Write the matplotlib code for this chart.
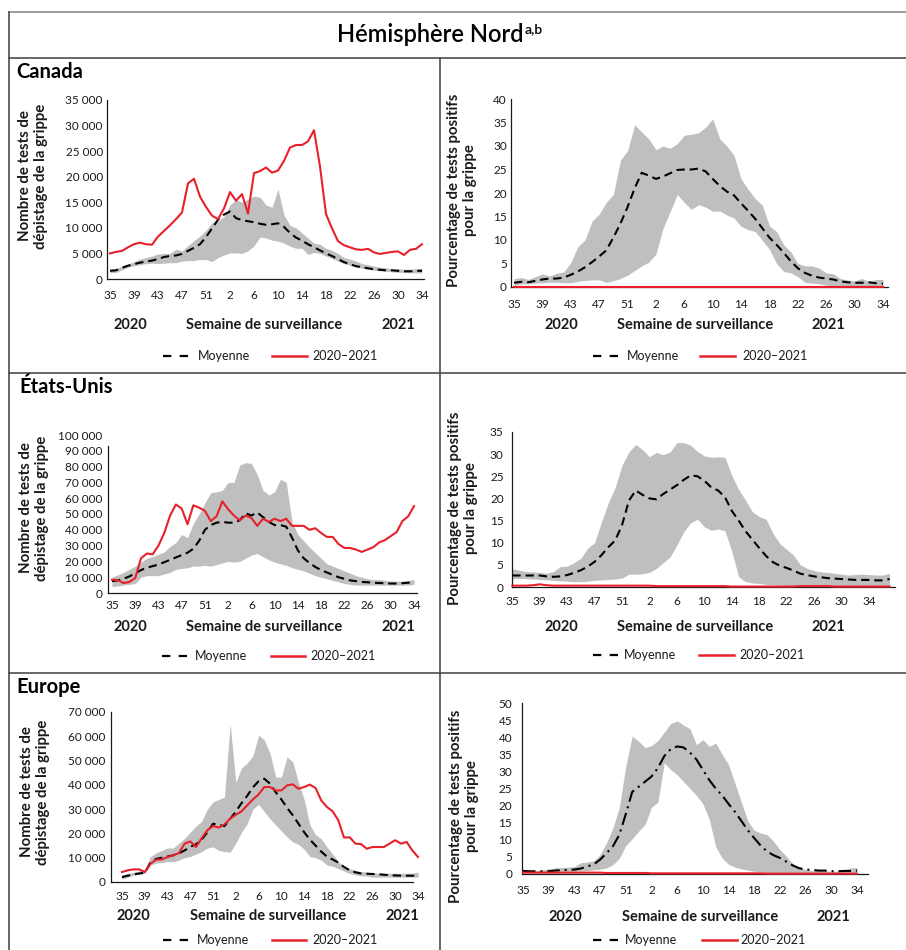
import matplotlib
matplotlib.use("Agg")
import matplotlib.pyplot as plt
from matplotlib.lines import Line2D

plt.rcParams['font.family'] = ['Lato', 'DejaVu Sans']
plt.rcParams['lines.scale_dashes'] = False

# ---------------- data ----------------
weeks = [35, 36, 37, 38, 39, 40, 41, 42, 43, 44, 45, 46, 47, 48, 49, 50, 51, 52, 53,
         1, 2, 3, 4, 5, 6, 7, 8, 9, 10, 11, 12, 13, 14, 15, 16, 17, 18, 19, 20,
         21, 22, 23, 24, 25, 26, 27, 28, 29, 30, 31, 32, 33, 34]
weeks_us_pct = weeks + [35, 36, 37]

# Canada - number of tests (thousands)
ca_tests_cur = [5.0, 5.3, 5.5, 6.2, 6.8, 7.1, 6.8, 6.7, 8.3, 9.4, 10.5, 11.7, 13.0, 18.7, 19.6, 16.1, 14.1, 12.4, 11.7, 13.8,
                17.0, 15.3, 16.6, 12.8, 20.7, 21.1, 21.8, 20.8, 21.2, 23.1, 25.7, 26.2, 26.2, 26.9, 29.1, 22.0, 12.7, 9.9, 7.4, 6.6,
                6.2, 5.8, 5.7, 5.9, 5.2, 4.9, 5.1, 5.3, 5.4, 4.7, 5.7, 5.9, 6.8]
ca_tests_mean = [1.6, 1.7, 2.2, 2.6, 2.9, 3.2, 3.4, 3.6, 3.9, 4.3, 4.5, 4.6, 4.9, 5.5, 6.1, 6.8, 8.2, 9.9, 11.6, 12.6,
                 13.2, 11.9, 11.5, 11.3, 11.1, 10.8, 10.6, 10.7, 10.9, 10.2, 9.0, 8.1, 7.5, 6.8, 6.2, 5.6, 5.0, 4.5, 3.9, 3.3,
                 2.9, 2.5, 2.3, 2.1, 1.9, 1.8, 1.7, 1.7, 1.6, 1.5, 1.5, 1.6, 1.6]
ca_tests_max = [1.9, 2.0, 2.5, 2.9, 3.4, 3.9, 4.2, 4.5, 4.9, 5.0, 5.0, 5.8, 5.5, 6.5, 7.5, 8.4, 9.5, 11.0, 11.3, 12.2,
                14.5, 15.5, 15.0, 15.6, 16.2, 16.0, 14.5, 14.0, 17.6, 12.5, 10.5, 10.0, 9.0, 8.0, 7.0, 6.8, 6.0, 5.6, 5.0, 4.2,
                3.9, 3.5, 3.0, 2.8, 2.5, 2.3, 2.2, 2.0, 2.0, 1.9, 1.9, 2.0, 2.1]
ca_tests_min = [1.2, 1.3, 1.8, 2.3, 2.6, 2.8, 3.0, 3.1, 3.0, 3.1, 3.2, 3.2, 3.5, 3.6, 3.6, 3.8, 3.8, 3.4, 4.2, 4.7,
                5.1, 5.1, 5.0, 5.5, 6.5, 8.2, 8.0, 7.6, 7.4, 7.0, 6.4, 6.0, 6.0, 4.8, 5.2, 5.0, 4.5, 4.0, 3.5, 3.0,
                2.7, 2.4, 2.1, 1.9, 1.7, 1.6, 1.5, 1.4, 1.3, 1.3, 1.2, 1.2, 1.2]

# Canada - percent positive
ca_pct_cur = [0.1, 0.1, 0.1, 0.1, 0.1, 0.1, 0.1, 0.1, 0.1, 0.1, 0.1, 0.1, 0.1, 0.1, 0.1, 0.1, 0.1, 0.1, 0.1, 0.1,
              0.1, 0.1, 0.1, 0.1, 0.1, 0.1, 0.1, 0.1, 0.1, 0.1, 0.1, 0.1, 0.1, 0.1, 0.1, 0.1, 0.1, 0.1, 0.1, 0.1,
              0.1, 0.1, 0.1, 0.1, 0.1, 0.1, 0.1, 0.1, 0.1, 0.1, 0.1, 0.1, 0.1]
ca_pct_mean = [0.9, 1.1, 1.0, 1.3, 1.6, 1.8, 1.8, 2.0, 2.6, 3.3, 4.2, 5.3, 6.5, 7.8, 10.5, 13.5, 17.0, 21.0, 24.3, 23.7,
               23.0, 23.5, 24.2, 24.9, 25.0, 25.0, 25.2, 24.6, 23.0, 21.5, 20.3, 19.5, 17.8, 16.2, 14.5, 12.5, 10.5, 9.0, 7.3, 5.5,
               4.0, 3.0, 2.4, 2.0, 1.8, 1.6, 1.2, 1.0, 0.9, 0.9, 1.0, 0.8, 0.7]
ca_pct_max = [1.8, 2.0, 1.6, 2.2, 2.8, 2.3, 2.9, 3.2, 5.2, 8.6, 10.0, 14.0, 15.5, 18.0, 19.7, 27.0, 29.0, 34.5, 33.0, 31.5,
              29.2, 30.0, 29.5, 30.5, 32.3, 32.5, 32.8, 34.0, 35.8, 31.5, 30.0, 28.0, 23.0, 20.8, 18.8, 17.4, 13.0, 11.8, 9.0, 7.5,
              5.0, 4.5, 4.5, 4.0, 3.0, 2.8, 1.8, 1.5, 1.3, 1.8, 1.2, 1.6, 1.6]
ca_pct_min = [0.3, 0.6, 0.7, 0.8, 0.9, 1.0, 1.0, 0.9, 0.9, 1.2, 1.4, 1.5, 1.5, 1.0, 1.3, 1.8, 2.5, 3.5, 4.5, 5.3,
              7.0, 12.5, 16.0, 19.7, 18.0, 16.5, 17.5, 17.0, 16.1, 16.2, 15.3, 14.7, 12.9, 12.2, 11.8, 9.9, 8.0, 5.0, 3.3, 3.0,
              2.2, 1.0, 0.8, 0.7, 0.4, 0.2, 0.1, 0.1, 0.1, 0.1, 0.1, 0.1, 0.1]

# United States - number of tests (thousands)
us_tests_cur = [8.4, 8.2, 6.3, 7.0, 9.5, 22.0, 25.0, 24.5, 30.0, 38.0, 49.0, 56.0, 53.5, 43.5, 55.5, 54.0, 52.0, 45.5, 48.5, 58.0,
                53.0, 49.0, 46.0, 49.0, 47.5, 42.5, 47.0, 45.0, 47.0, 45.5, 47.0, 42.5, 42.5, 42.5, 40.0, 41.0, 38.0, 35.5, 35.5, 31.0,
                28.5, 28.5, 27.5, 26.0, 27.5, 29.0, 32.0, 33.5, 36.0, 38.5, 45.5, 48.5, 55.0]
us_tests_mean = [7.5, 8.0, 9.0, 10.5, 12.5, 14.5, 16.0, 17.0, 18.0, 19.5, 21.0, 22.5, 24.0, 25.5, 28.0, 33.0, 40.0, 43.0, 44.5, 45.0,
                 44.5, 44.5, 46.0, 50.5, 49.0, 51.0, 48.0, 45.0, 43.0, 43.0, 42.0, 35.0, 27.0, 22.0, 19.0, 16.5, 14.5, 13.0, 11.5, 10.0,
                 9.0, 8.0, 7.5, 7.0, 6.8, 6.5, 6.3, 6.2, 6.0, 6.0, 6.2, 6.5, 6.8]
us_tests_max = [10.0, 11.5, 13.0, 15.0, 17.0, 19.5, 22.0, 23.0, 24.5, 26.0, 29.5, 32.0, 37.0, 35.0, 44.0, 50.0, 57.0, 63.5, 64.0, 65.0,
                70.0, 70.0, 81.0, 82.5, 82.0, 75.0, 65.0, 62.0, 64.0, 72.0, 70.0, 45.0, 37.0, 33.0, 29.0, 25.5, 22.0, 18.5, 17.0, 15.5,
                14.0, 12.5, 11.0, 10.0, 9.0, 8.5, 8.5, 8.0, 7.5, 7.5, 7.5, 8.0, 8.5]
us_tests_min = [4.0, 4.5, 5.0, 5.5, 6.0, 10.0, 11.0, 11.0, 11.0, 12.0, 13.0, 15.0, 15.5, 16.0, 17.0, 17.0, 17.5, 17.0, 18.0, 19.0,
                20.0, 19.5, 20.0, 22.0, 24.0, 25.0, 23.0, 21.0, 19.5, 18.5, 17.5, 16.0, 15.0, 14.0, 12.5, 11.0, 10.0, 9.0, 8.0, 7.0,
                6.0, 5.5, 5.0, 5.0, 5.0, 5.0, 5.0, 5.0, 5.0, 5.0, 5.0, 5.0, 5.5]

# United States - percent positive (56 weeks shown)
us_pct_cur = [0.3, 0.3, 0.3, 0.4, 0.6, 0.4, 0.3, 0.3, 0.3, 0.3, 0.3, 0.3, 0.3, 0.3, 0.3, 0.3, 0.3, 0.3, 0.3, 0.3,
              0.3, 0.2, 0.2, 0.2, 0.2, 0.2, 0.2, 0.2, 0.2, 0.2, 0.2, 0.2, 0.1, 0.1, 0.1, 0.1, 0.1, 0.1, 0.1, 0.1,
              0.1, 0.1, 0.2, 0.2, 0.2, 0.2, 0.2, 0.1, 0.1, 0.1, 0.1, 0.1, 0.1, 0.1, 0.1, 0.1]
us_pct_mean = [2.6, 2.6, 2.6, 2.6, 2.6, 2.4, 2.3, 2.4, 2.7, 3.2, 3.8, 4.6, 5.7, 7.2, 9.0, 10.5, 14.0, 19.5, 21.8, 20.8,
               20.0, 19.8, 21.0, 22.0, 23.0, 24.2, 25.2, 25.0, 24.0, 22.5, 21.8, 20.3, 17.2, 15.0, 12.6, 10.7, 8.8, 7.0, 5.6, 4.8,
               4.3, 3.7, 3.0, 2.7, 2.4, 2.2, 2.0, 1.9, 1.8, 1.7, 1.6, 1.6, 1.6, 1.5, 1.5, 1.8]
us_pct_max = [4.1, 3.8, 3.5, 3.4, 3.3, 3.1, 3.5, 4.6, 4.7, 5.5, 6.5, 8.8, 10.0, 14.7, 19.0, 22.5, 27.5, 30.5, 32.2, 31.0,
              29.4, 30.4, 29.9, 30.5, 32.6, 32.6, 32.0, 30.6, 29.6, 29.3, 29.4, 29.3, 25.2, 22.0, 19.6, 17.0, 15.9, 15.3, 12.1, 9.8,
              8.5, 7.2, 5.0, 4.2, 3.7, 3.4, 3.3, 3.1, 2.9, 2.7, 2.8, 2.9, 2.8, 2.7, 2.7, 3.1]
us_pct_min = [1.9, 1.9, 1.9, 1.8, 1.7, 1.6, 1.5, 1.4, 1.3, 1.2, 1.2, 1.3, 1.5, 1.6, 1.7, 1.8, 2.0, 2.9, 2.9, 3.0,
              3.3, 4.2, 5.5, 6.8, 9.5, 12.5, 14.5, 15.3, 13.6, 12.8, 13.1, 12.7, 8.0, 2.3, 1.2, 0.9, 0.8, 0.6, 0.5, 0.4,
              0.3, 0.2, 0.2, 0.2, 0.2, 0.2, 0.2, 0.2, 0.2, 0.2, 0.2, 0.2, 0.2, 0.2, 0.2, 0.2]

# Europe - number of tests (thousands)
eu_tests_cur = [4.1, 4.8, 5.2, 5.2, 4.1, 7.5, 9.2, 9.3, 10.3, 11.0, 11.9, 15.8, 16.7, 14.4, 18.1, 21.3, 23.1, 22.4, 23.7, 26.1,
                27.7, 29.1, 31.6, 34.0, 36.1, 39.1, 39.1, 37.7, 37.7, 39.8, 40.2, 38.4, 39.1, 40.1, 38.7, 33.6, 30.9, 29.1, 25.4, 18.3,
                18.4, 15.8, 15.6, 13.7, 14.4, 14.4, 14.4, 15.8, 17.2, 15.8, 16.5, 13.0, 10.3]
eu_tests_mean = [2.0, 2.6, 3.1, 3.5, 3.8, 8.0, 9.5, 10.0, 10.5, 11.0, 11.8, 13.0, 14.5, 15.5, 17.5, 20.5, 24.0, 23.5, 23.0, 26.0,
                 29.0, 32.5, 35.5, 39.0, 41.5, 42.5, 40.5, 37.0, 34.0, 30.5, 27.5, 24.0, 20.5, 17.5, 15.0, 12.5, 10.5, 9.3, 8.0, 6.2,
                 4.8, 4.0, 3.5, 3.4, 3.3, 3.2, 3.0, 2.8, 2.7, 2.6, 2.6, 2.6, 2.6]
eu_tests_max = [3.0, 3.5, 4.0, 4.5, 5.0, 10.5, 12.0, 13.0, 14.0, 14.0, 16.0, 18.0, 20.5, 23.0, 25.0, 30.0, 33.0, 34.0, 35.0, 65.0,
                41.0, 47.0, 49.0, 52.0, 60.5, 58.5, 53.0, 43.2, 43.2, 51.5, 49.5, 41.0, 34.0, 23.5, 19.5, 17.8, 14.5, 11.5, 8.5, 6.3,
                5.5, 4.8, 4.3, 4.1, 3.6, 3.6, 3.6, 3.6, 3.6, 3.6, 3.6, 3.6, 4.1]
eu_tests_min = [1.2, 2.0, 2.8, 3.2, 3.6, 7.0, 7.8, 8.0, 8.5, 8.3, 9.0, 10.0, 10.5, 11.5, 12.5, 14.0, 14.5, 13.0, 12.5, 12.3,
                16.0, 20.5, 24.0, 30.0, 32.0, 29.0, 26.0, 23.5, 21.0, 18.5, 16.5, 15.5, 13.5, 10.5, 10.0, 9.0, 7.0, 6.5, 5.5, 4.5,
                3.5, 3.0, 2.6, 2.4, 2.0, 2.0, 2.0, 2.0, 2.0, 2.0, 2.0, 2.0, 2.0]

# Europe - percent positive
eu_pct_cur = [0.4, 0.4, 0.4, 0.4, 0.4, 0.4, 0.4, 0.4, 0.4, 0.4, 0.4, 0.4, 0.4, 0.3, 0.3, 0.3, 0.3, 0.3, 0.3, 0.3,
              0.2, 0.2, 0.2, 0.2, 0.2, 0.2, 0.2, 0.2, 0.2, 0.2, 0.2, 0.2, 0.2, 0.2, 0.2, 0.2, 0.2, 0.2, 0.1, 0.1,
              0.1, 0.1, 0.1, 0.1, 0.1, 0.1, 0.1, 0.1, 0.1, 0.1, 0.1, 0.1, 0.1]
eu_pct_mean = [0.9, 0.8, 0.8, 0.8, 0.8, 1.0, 1.1, 1.2, 1.3, 1.6, 2.2, 2.8, 4.2, 6.1, 8.1, 11.5, 17.5, 24.0, 25.5, 27.0,
               28.5, 31.0, 34.5, 36.5, 37.3, 37.0, 35.5, 33.5, 30.5, 27.5, 25.0, 23.0, 20.5, 18.2, 15.5, 12.8, 10.5, 8.3, 6.6, 5.5,
               4.7, 3.6, 2.5, 1.7, 1.3, 1.2, 1.0, 1.0, 0.8, 0.8, 0.9, 0.9, 1.0]
eu_pct_max = [1.2, 1.0, 1.0, 1.2, 1.5, 1.8, 1.9, 2.0, 2.2, 3.3, 3.5, 3.8, 5.7, 9.1, 13.5, 19.5, 31.5, 40.3, 38.8, 37.0,
              37.5, 39.0, 41.5, 44.0, 44.8, 43.5, 42.5, 37.8, 39.3, 37.3, 38.3, 35.0, 32.0, 26.5, 21.0, 15.5, 12.8, 12.0, 11.5, 9.6,
              7.1, 5.2, 3.0, 1.8, 1.3, 1.0, 1.0, 0.9, 0.8, 0.8, 1.2, 1.8, 1.8]
eu_pct_min = [0.4, 0.4, 0.4, 0.5, 0.6, 0.8, 0.8, 0.8, 0.8, 0.9, 1.0, 1.2, 1.4, 1.8, 2.7, 4.6, 8.3, 10.3, 12.5, 14.5,
              19.5, 21.0, 32.5, 30.5, 29.0, 27.0, 25.0, 23.0, 20.5, 16.0, 8.0, 4.7, 2.8, 2.0, 1.5, 1.1, 0.8, 0.6, 0.4, 0.3,
              0.2, 0.2, 0.2, 0.2, 0.2, 0.2, 0.2, 0.2, 0.2, 0.2, 0.2, 0.2, 0.2]

tests_ticks_35 = [0, 5, 10, 15, 20, 25, 30, 35]
tests_ticks_100 = [0, 10, 20, 30, 40, 50, 60, 70, 80, 90, 100]
tests_ticks_70 = [0, 10, 20, 30, 40, 50, 60, 70]
pct_ticks_40 = [0, 5, 10, 15, 20, 25, 30, 35, 40]
pct_ticks_35 = [0, 5, 10, 15, 20, 25, 30, 35]
pct_ticks_50 = [0, 5, 10, 15, 20, 25, 30, 35, 40, 45, 50]

regions = ["Canada", "États-Unis", "Europe"]
main_title = "Hémisphère Nord"
title_sup = "a,b"
ylab_tests = "Nombre de tests de\ndépistage de la grippe"
ylab_pct = "Pourcentage de tests positifs\npour la grippe"
xlab = "Semaine de surveillance"
year_labels = ["2020", "2021"]
legend_labels = ["Moyenne", "2020–2021"]

# ---------------- style ----------------
W, H = 906, 950
GRAY = '#BFBFBF'
RED = '#E8202A'
TXT = '#1a1a1a'
DASH = (6, 3.5)
DASHDOT = (9, 3.5, 1.5, 3.5)

fig = plt.figure(figsize=(W / 100, H / 100), dpi=100)


def fx(px):
    return px / W


def fy(py):
    return 1 - py / H


def tests_label(v):
    return "0" if v == 0 else f"{v * 1000:,}".replace(",", " ")


def panel(box, x0, x52, series, yticks, ylabels, ymax, xpad, ypad,
          mean_dash=DASH, wk=weeks, spine_top=None, xspine_end=None):
    left, top, right, bottom = box
    ax = fig.add_axes([fx(left), fy(bottom), (right - left) / W, (bottom - top) / H])
    ppi = (x52 - x0) / 52.0
    ax.set_xlim(-(x0 - left) / ppi, (right - x0) / ppi)
    ax.set_ylim(0, ymax)
    lo, hi, mean, cur = series
    x = list(range(len(mean)))
    ax.fill_between(x, lo, hi, color=GRAY, lw=0, zorder=1)
    ax.plot(x, mean, color='black', lw=1.5, dashes=mean_dash, zorder=3, clip_on=False)
    ax.plot(x, cur, color=RED, lw=1.5, zorder=4, clip_on=False)
    for s in ['top', 'right']:
        ax.spines[s].set_visible(False)
    for s in ['left', 'bottom']:
        ax.spines[s].set_color(TXT)
        ax.spines[s].set_linewidth(0.9)
        ax.spines[s].set_zorder(2)
    if spine_top is not None:
        ax.spines['left'].set_bounds(0, spine_top)
    if xspine_end is not None:
        ax.spines['bottom'].set_bounds(ax.get_xlim()[0], (xspine_end - x0) / ppi)
    ti = list(range(0, 53, 4))
    ax.set_xticks(ti)
    ax.set_xticklabels([str(wk[i]) for i in ti])
    ax.set_yticks(yticks)
    ax.set_yticklabels(ylabels)
    ax.tick_params(axis='x', length=0, pad=xpad, labelsize=8.5, colors=TXT)
    ax.tick_params(axis='y', length=0, pad=ypad, labelsize=8.5, colors=TXT)
    ax.patch.set_alpha(0)
    return ax


def texts(years_y, xs, ylab, ylab_xy, leg_y, leg):
    fig.text(fx(xs[0]), fy(years_y), year_labels[0], ha='center', va='center',
             fontsize=10.5, fontweight='bold', color=TXT)
    fig.text(fx(xs[1]), fy(years_y), xlab, ha='center', va='center',
             fontsize=10.5, fontweight='bold', color=TXT)
    fig.text(fx(xs[2]), fy(years_y), year_labels[1], ha='center', va='center',
             fontsize=10.5, fontweight='bold', color=TXT)
    fig.text(fx(ylab_xy[0]), fy(ylab_xy[1]), ylab, rotation=90, ha='center', va='center',
             multialignment='center', fontsize=10.8, fontweight='bold', color=TXT, linespacing=1.2)
    d1, d2, t1, r1, r2, t2 = leg
    fig.add_artist(Line2D([fx(d1), fx(d2)], [fy(leg_y), fy(leg_y)], color='black', lw=1.6,
                          dashes=(6, 6), transform=fig.transFigure))
    fig.text(fx(t1), fy(leg_y), legend_labels[0], ha='left', va='center', fontsize=9, color=TXT)
    fig.add_artist(Line2D([fx(r1), fx(r2)], [fy(leg_y), fy(leg_y)], color=RED, lw=1.8,
                          transform=fig.transFigure))
    fig.text(fx(t2), fy(leg_y), legend_labels[1], ha='left', va='center', fontsize=9, color=TXT)


# ---------------- frame ----------------
FRAME = '#4d4d4d'
fig.add_artist(Line2D([fx(9), fx(906)], [fy(12), fy(12)], color='#8c8c8c', lw=1.2, transform=fig.transFigure))
fig.add_artist(Line2D([fx(9), fx(9)], [fy(12), fy(950)], color=FRAME, lw=1.2, transform=fig.transFigure))
for yy in [58, 373, 673]:
    fig.add_artist(Line2D([fx(9), fx(906)], [fy(yy), fy(yy)], color=FRAME, lw=1.2, transform=fig.transFigure))
fig.add_artist(Line2D([fx(440), fx(440)], [fy(58), fy(950)], color=FRAME, lw=1.2, transform=fig.transFigure))

t = fig.text(fx(430), fy(42), main_title, ha='center', va='baseline', fontsize=17,
             fontweight='semibold', color='black')
fig.text(fx(16), fy(78), regions[0], ha='left', va='baseline', fontsize=14.5, fontweight='bold', color='black')
fig.text(fx(19), fy(393), regions[1], ha='left', va='baseline', fontsize=14.5, fontweight='bold', color='black')
fig.text(fx(16), fy(693), regions[2], ha='left', va='baseline', fontsize=14.5, fontweight='bold', color='black')

# ---------------- panels ----------------
panel((107, 100, 424, 279), 110, 422, (ca_tests_min, ca_tests_max, ca_tests_mean, ca_tests_cur),
      tests_ticks_35, [tests_label(v) for v in tests_ticks_35], 35, 7.9, 3)
texts(325, (130, 264, 398), ylab_tests, (33, 176), 356, (163, 190, 198, 272, 307, 312))

panel((511, 99, 888, 287), 514, 883, (ca_pct_min, ca_pct_max, ca_pct_mean, ca_pct_cur),
      pct_ticks_40, [str(v) for v in pct_ticks_40], 40, 8.6, 3)
texts(325, (561, 695, 828), ylab_pct, (462, 190), 356, (593, 620, 627, 700, 735, 742))

panel((108, 435, 417, 593), 112, 414, (us_tests_min, us_tests_max, us_tests_mean, us_tests_cur),
      tests_ticks_100, [tests_label(v) for v in tests_ticks_100], 100, 5.0, 4, spine_top=93)
texts(627, (130, 264, 398), ylab_tests, (34, 508), 656, (162, 189, 195, 271, 305, 310))

panel((512, 432, 895, 587), 512.3, 869, (us_pct_min, us_pct_max, us_pct_mean, us_pct_cur),
      pct_ticks_35, [str(v) for v in pct_ticks_35], 35, 6.5, 6, wk=weeks_us_pct)
texts(627, (561, 695, 828), ylab_pct, (463, 508), 655, (593, 619, 624, 699, 734, 739))

panel((111, 712, 421, 882), 122, 418, (eu_tests_min, eu_tests_max, eu_tests_mean, eu_tests_cur),
      tests_ticks_70, [tests_label(v) for v in tests_ticks_70], 70, 6.5, 4, xspine_end=413)
texts(916, (133, 268, 402), ylab_tests, (35, 792), 940, (163, 190, 197, 272, 306, 312))

panel((522, 703, 868, 874), 523, 857, (eu_pct_min, eu_pct_max, eu_pct_mean, eu_pct_cur),
      pct_ticks_50, [str(v) for v in pct_ticks_50], 50, 7.9, 7, mean_dash=DASHDOT)
texts(917, (565, 700, 833), ylab_pct, (464, 806), 940, (593, 620, 625, 702, 737, 740))

# superscript after main title
renderer = fig.canvas.get_renderer()
bb = t.get_window_extent(renderer)
fig.text((bb.x1 + 1) / W, fy(33), title_sup, ha='left', va='baseline', fontsize=10,
         fontweight='semibold', color='black')

fig.savefig('out.png', dpi=100)
